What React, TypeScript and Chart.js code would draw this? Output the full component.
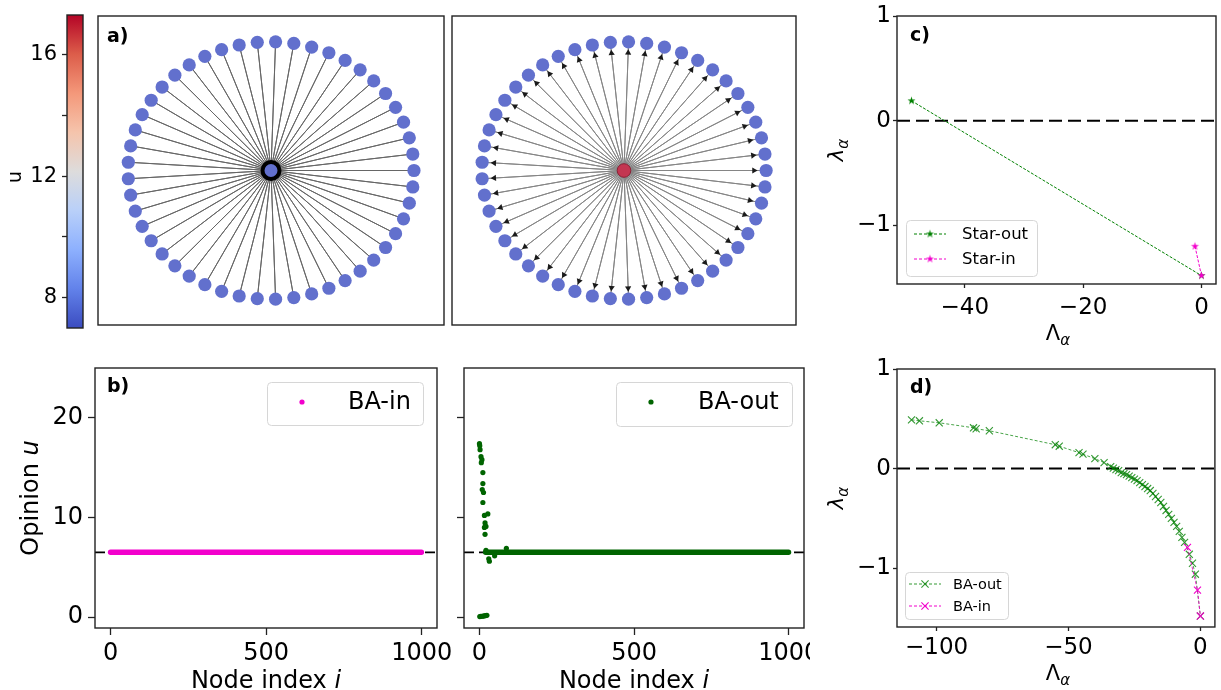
import React, { useEffect, useRef } from 'react';
import { Chart, registerables } from 'chart.js';
Chart.register(...registerables);

// ---------------- data ----------------
const colorbarTicks = [8, 10, 12, 14, 16];
const colorbarLabeledTicks = [8, 12, 16];
const colorbarMin = 7.0;
const colorbarMax = 17.3;

const starLeafCount = 49;
const starInLeafOpinion = 6.5;
const starInHubOpinion = 6.5;
const starOutLeafOpinion = 6.5;
const starOutHubOpinion = 17.5;

const nodeIndexTicks = [0, 500, 1000];
const opinionTicks = [0, 10, 20];
const nodeIndexMin = -50;
const nodeIndexMax = 1049;
const opinionMin = -1.1;
const opinionMax = 25;
const consensusOpinion = 6.5;
const baInConsensusNodes = [0, 999];
const baOutConsensusNodes = [20, 999];
const baOutOutlierNodes = [0, 1, 2, 5, 8, 6, 11, 11, 9, 13, 11, 16, 27, 18, 21, 16, 18, 21, 30, 32, 49, 87, 1, 4, 8, 12, 16, 20, 24];
const baOutOutlierOpinions = [17.4, 17.2, 16.8, 16.1, 15.8, 15.5, 14.5, 13.4, 12.8, 12.5, 11.5, 10.2, 10.35, 9.45, 9.1, 9.0, 8.3, 6.7, 5.85, 5.6, 6.15, 6.9, 0.05, 0.07, 0.08, 0.1, 0.12, 0.15, 0.17];

const lambdaTicks = [-1, 0, 1];
const starBigLambdaTicks = [-40, -20, 0];
const starBigLambdaMin = -51.45;
const starBigLambdaMax = 2.45;
const starLambdaMin = -1.56;
const starLambdaMax = 1;
const starOutBigLambda = [-49, 0];
const starOutLambda = [0.19, -1.48];
const starInBigLambda = [-1.1, 0];
const starInLambda = [-1.2, -1.48];

const baBigLambdaTicks = [-100, -50, 0];
const baBigLambdaMin = -115;
const baBigLambdaMax = 5.5;
const baLambdaMin = -1.59;
const baLambdaMax = 1;
const baOutBigLambda = [-109.5, -106.5, -99, -86, -85, -80, -55, -53.5, -46, -44.5, -40, -36.5, -34, -33, -32, -31, -30, -29, -28, -27, -26, -25, -24, -23, -22, -21, -20, -19, -18, -17, -16, -15, -14, -13, -12, -11, -10, -9, -8, -7, -6, -4.2, -3, -1.9, 0];
const baOutLambda = [0.49, 0.48, 0.46, 0.41, 0.40, 0.38, 0.24, 0.225, 0.16, 0.145, 0.10, 0.06, 0.02, 0.005, -0.01, -0.02, -0.04, -0.05, -0.06, -0.075, -0.09, -0.105, -0.12, -0.14, -0.16, -0.18, -0.20, -0.22, -0.25, -0.28, -0.31, -0.34, -0.38, -0.42, -0.46, -0.50, -0.54, -0.58, -0.63, -0.69, -0.74, -0.86, -0.95, -1.06, -1.48];
const baInBigLambda = [-4.9, -1.1, 0];
const baInLambda = [-0.79, -1.22, -1.48];

// ---------------- styling ----------------
const W = 1221;
const H = 690;
const FAMILY = '"DejaVu Sans", "Liberation Sans", sans-serif';
const F = (size: number, style = 'normal', weight = 'normal') => `${style} ${weight} ${size}px ${FAMILY}`;
const SPINE = '#222222';
const MAGENTA = '#f200cc';
const GREEN_DARK = '#006400';
const GREEN = '#008000';
const GREEN_D = 'rgba(0,128,0,0.8)';
const fmt = (v: number) => (v < 0 ? '\u2212' + Math.abs(v) : String(v));

const coolwarmStops: [number, number[]][] = [
  [0, [59, 76, 192]],
  [0.125, [98, 130, 234]],
  [0.25, [141, 176, 254]],
  [0.375, [185, 208, 249]],
  [0.5, [221, 220, 220]],
  [0.625, [245, 196, 172]],
  [0.75, [244, 152, 122]],
  [0.875, [220, 93, 74]],
  [1, [180, 4, 38]],
];
function coolwarm(t: number): number[] {
  const tt = Math.max(0, Math.min(1, t));
  for (let i = 1; i < coolwarmStops.length; i++) {
    const [t1, c1] = coolwarmStops[i];
    const [t0, c0] = coolwarmStops[i - 1];
    if (tt <= t1) {
      const f = (tt - t0) / (t1 - t0);
      return c0.map((c, k) => c + (c1[k] - c) * f);
    }
  }
  return coolwarmStops[coolwarmStops.length - 1][1];
}
function nodeColor(u: number) {
  const c = coolwarm((u - colorbarMin) / (colorbarMax - colorbarMin));
  const b = c.map((v) => Math.round(v * 0.8 + 255 * 0.2));
  return `rgb(${b[0]},${b[1]},${b[2]})`;
}

function makeStar(r: number, color: string) {
  const c = document.createElement('canvas');
  const s = Math.ceil(r * 2 + 2);
  c.width = s;
  c.height = s;
  const g = c.getContext('2d')!;
  g.fillStyle = color;
  g.beginPath();
  for (let i = 0; i < 10; i++) {
    const rr = i % 2 === 0 ? r : r * 0.382;
    const a = -Math.PI / 2 + (i * Math.PI) / 5;
    g.lineTo(s / 2 + rr * Math.cos(a), s / 2 + rr * Math.sin(a));
  }
  g.closePath();
  g.fill();
  return c;
}

type Run = { t: string; font: string; dy?: number };
type TextItem = { x: number; y: number; runs: Run[]; align?: 'left' | 'center' | 'right'; rotate?: boolean };
type LegendRow = { y: number; markerX: number; textX: number; label: string; font: string; marker: (ctx: CanvasRenderingContext2D, x: number, y: number) => void };
type LegendSpec = { box: [number, number, number, number]; rows: LegendRow[] };

function drawRuns(ctx: CanvasRenderingContext2D, item: TextItem) {
  ctx.save();
  ctx.translate(item.x, item.y);
  if (item.rotate) ctx.rotate(-Math.PI / 2);
  let total = 0;
  const widths = item.runs.map((r) => {
    ctx.font = r.font;
    const w = ctx.measureText(r.t).width;
    total += w;
    return w;
  });
  let cx = item.align === 'center' ? -total / 2 : item.align === 'right' ? -total : 0;
  ctx.textBaseline = 'alphabetic';
  ctx.textAlign = 'left';
  ctx.fillStyle = '#000';
  item.runs.forEach((r, i) => {
    ctx.font = r.font;
    ctx.fillText(r.t, cx, r.dy || 0);
    cx += widths[i];
  });
  ctx.restore();
}

function overlay(id: string, opts: { frame?: boolean; texts?: TextItem[]; legend?: LegendSpec }) {
  return {
    id,
    afterDatasetsDraw(chart: any) {
      if (!opts.frame) return;
      const { left, top, right, bottom } = chart.chartArea;
      const ctx = chart.ctx;
      ctx.save();
      ctx.strokeStyle = SPINE;
      ctx.lineWidth = 1.4;
      ctx.strokeRect(left, top, right - left, bottom - top);
      ctx.restore();
    },
    afterDraw(chart: any) {
      const ctx: CanvasRenderingContext2D = chart.ctx;
      if (opts.legend) {
        const [x0, y0, x1, y1] = opts.legend.box;
        ctx.save();
        ctx.beginPath();
        (ctx as any).roundRect(x0 + 0.5, y0 + 0.5, x1 - x0, y1 - y0, 4);
        ctx.fillStyle = 'rgba(255,255,255,0.85)';
        ctx.fill();
        ctx.strokeStyle = '#d6d6d6';
        ctx.lineWidth = 1;
        ctx.stroke();
        ctx.restore();
        opts.legend.rows.forEach((r) => {
          ctx.save();
          r.marker(ctx, r.markerX, r.y);
          ctx.restore();
          ctx.save();
          ctx.font = r.font;
          ctx.fillStyle = '#000';
          ctx.textBaseline = 'middle';
          ctx.textAlign = 'left';
          ctx.fillText(r.label, r.textX, r.y + 1);
          ctx.restore();
        });
      }
      (opts.texts || []).forEach((t) => drawRuns(ctx, t));
    },
  };
}

function axis(o: { pos: 'left' | 'bottom'; min: number; max: number; ticks: number[]; labeled?: number[]; size: number; font: number; tickLen: number; pad: number; hideLabels?: boolean }) {
  return {
    type: 'linear',
    position: o.pos,
    min: o.min,
    max: o.max,
    afterBuildTicks: (s: any) => {
      s.ticks = o.ticks.map((v) => ({ value: v }));
    },
    afterFit: (s: any) => {
      if (o.pos === 'left') s.width = o.size;
      else s.height = o.size;
      s.paddingLeft = 0;
      s.paddingRight = 0;
      s.paddingTop = 0;
      s.paddingBottom = 0;
    },
    grid: { display: true, drawOnChartArea: false, drawTicks: true, tickLength: o.tickLen, tickColor: SPINE, tickWidth: 1.3 },
    border: { display: false },
    ticks: {
      display: !o.hideLabels,
      color: '#000',
      font: { family: FAMILY, size: o.font },
      padding: o.pad,
      maxRotation: 0,
      minRotation: 0,
      autoSkip: false,
      callback: (v: number) => (!o.labeled || o.labeled.includes(v) ? fmt(v) : ''),
    },
  };
}

function baseOptions(padding: any) {
  return {
    animation: false,
    responsive: false,
    devicePixelRatio: 1,
    events: [],
    layout: { padding },
    plugins: { legend: { display: false }, tooltip: { enabled: false } },
  };
}

const pts = (xs: number[], ys: number[]) => xs.map((x, i) => ({ x, y: ys[i] }));

// ---------------- chart configs ----------------
function colorbarConfig() {
  return {
    type: 'bar',
    data: {
      labels: ['u'],
      datasets: [
        {
          data: [[colorbarMin, colorbarMax]],
          barPercentage: 1,
          categoryPercentage: 1,
          borderWidth: 0,
          backgroundColor: (c: any) => {
            const ch = c.chart;
            const ys = ch.scales && ch.scales.y;
            if (!ys) return '#ddd';
            const y0 = ys.getPixelForValue(colorbarMin);
            const y1 = ys.getPixelForValue(colorbarMax);
            if (!isFinite(y0) || !isFinite(y1)) return '#ddd';
            const g = ch.ctx.createLinearGradient(0, y0, 0, y1);
            coolwarmStops.forEach(([t, col]) => g.addColorStop(t, `rgb(${col[0]},${col[1]},${col[2]})`));
            return g;
          },
        },
      ],
    },
    options: {
      ...baseOptions({ left: 0, top: 15, right: W - 83, bottom: H - 328 }),
      scales: {
        x: { display: false },
        y: axis({ pos: 'left', min: colorbarMin, max: colorbarMax, ticks: colorbarTicks, labeled: colorbarLabeledTicks, size: 67, font: 21, tickLen: 5, pad: 5 }),
      },
    },
    plugins: [overlay('cb', { frame: true, texts: [{ x: 21, y: 177, runs: [{ t: 'u', font: F(19) }], align: 'center', rotate: true }] })],
  };
}

function starNetworkConfig(kind: 'in' | 'out', padding: any) {
  const hub = { x: 0, y: 0 };
  const leaves = Array.from({ length: starLeafCount }, (_, k) => {
    const a = (2 * Math.PI * k) / starLeafCount;
    return { x: Math.cos(a), y: Math.sin(a) };
  });
  const edgePath = [hub, ...leaves.flatMap((p) => [p, hub])];
  const leafU = kind === 'in' ? starInLeafOpinion : starOutLeafOpinion;
  const hubU = kind === 'in' ? starInHubOpinion : starOutHubOpinion;
  const datasets: any[] = [
    { data: edgePath, showLine: true, borderColor: kind === 'in' ? '#666666' : '#858585', borderWidth: 1, pointRadius: 0, order: 3 },
    { data: leaves, pointRadius: 6.6, pointBackgroundColor: nodeColor(leafU), pointBorderWidth: 0, order: 1 },
    {
      data: [hub],
      pointRadius: kind === 'in' ? 8.5 : 6.8,
      pointBackgroundColor: nodeColor(hubU),
      pointBorderColor: kind === 'in' ? '#000' : '#8a2035',
      pointBorderWidth: kind === 'in' ? 4 : 1,
      order: 0,
    },
  ];
  if (kind === 'out') {
    datasets.push({
      data: leaves.map((p) => ({ x: p.x * 0.915, y: p.y * 0.915 })),
      pointStyle: 'triangle',
      pointRadius: 3.6,
      pointBackgroundColor: '#1a1a1a',
      pointBorderWidth: 0,
      pointRotation: (c: any) => {
        const ch = c.chart;
        const xs = ch.scales.x;
        const ys = ch.scales.y;
        const p = c.raw;
        if (!p || !xs || !ys) return 0;
        const dx = xs.getPixelForValue(p.x) - xs.getPixelForValue(0);
        const dy = ys.getPixelForValue(p.y) - ys.getPixelForValue(0);
        return (Math.atan2(dy, dx) * 180) / Math.PI + 90;
      },
      order: 2,
    });
  }
  const texts: TextItem[] = kind === 'in' ? [{ x: 107, y: 42, runs: [{ t: 'a)', font: F(19, 'normal', 'bold') }] }] : [];
  return {
    type: 'scatter',
    data: { datasets },
    options: {
      ...baseOptions(padding),
      scales: {
        x: { type: 'linear', display: false, min: -1.21, max: 1.21 },
        y: { type: 'linear', display: false, min: -1.2, max: 1.2 },
      },
    },
    plugins: [overlay('net' + kind, { frame: true, texts })],
  };
}

function opinionConfig(kind: 'in' | 'out') {
  const isIn = kind === 'in';
  const area = isIn ? { l: 95, t: 368, r: 437, b: 628 } : { l: 464, t: 368, r: 804, b: 628 };
  const canvasW = isIn ? W : 810;
  const yW = isIn ? 95 : 64;
  const color = isIn ? MAGENTA : GREEN_DARK;
  const span = isIn ? baInConsensusNodes : baOutConsensusNodes;
  const datasets: any[] = [
    {
      data: [{ x: nodeIndexMin, y: consensusOpinion }, { x: nodeIndexMax, y: consensusOpinion }],
      showLine: true,
      borderColor: '#000',
      borderWidth: 1.8,
      borderDash: [10, 5],
      pointRadius: 0,
      order: 2,
    },
    {
      data: span.map((i) => ({ x: i, y: consensusOpinion })),
      showLine: true,
      borderColor: color,
      borderWidth: 5.4,
      borderCapStyle: 'round',
      pointRadius: 0,
      order: 1,
    },
  ];
  if (!isIn) {
    datasets.push({ data: pts(baOutOutlierNodes, baOutOutlierOpinions), pointRadius: 2.6, pointBackgroundColor: GREEN_DARK, pointBorderWidth: 0, order: 0 });
  }
  const texts: TextItem[] = [
    { x: (area.l + area.r) / 2, y: 688, runs: [{ t: 'Node index ', font: F(24) }, { t: 'i', font: F(24, 'italic') }], align: 'center' },
  ];
  if (isIn) {
    texts.push({ x: 107, y: 392, runs: [{ t: 'b)', font: F(19, 'normal', 'bold') }] });
    texts.push({ x: 38, y: (area.t + area.b) / 2, runs: [{ t: 'Opinion ', font: F(24) }, { t: 'u', font: F(24, 'italic') }], align: 'center', rotate: true });
  }
  const legend: LegendSpec = isIn
    ? {
        box: [267, 382, 423, 425],
        rows: [{ y: 402, markerX: 302, textX: 348, label: 'BA-in', font: F(24), marker: (ctx, x, y) => { ctx.beginPath(); ctx.arc(x, y, 2.6, 0, Math.PI * 2); ctx.fillStyle = MAGENTA; ctx.fill(); } }],
      }
    : {
        box: [616, 382, 792, 426],
        rows: [{ y: 402, markerX: 651, textX: 698, label: 'BA-out', font: F(24), marker: (ctx, x, y) => { ctx.beginPath(); ctx.arc(x, y, 2.6, 0, Math.PI * 2); ctx.fillStyle = GREEN_DARK; ctx.fill(); } }],
      };
  return {
    type: 'scatter',
    data: { datasets },
    options: {
      ...baseOptions({ left: area.l - yW, top: area.t, right: canvasW - area.r, bottom: 0 }),
      scales: {
        x: axis({ pos: 'bottom', min: nodeIndexMin, max: nodeIndexMax, ticks: nodeIndexTicks, size: H - area.b, font: 24, tickLen: 7, pad: 4 }),
        y: axis({ pos: 'left', min: opinionMin, max: opinionMax, ticks: opinionTicks, size: yW, font: 24, tickLen: 7, pad: 5, hideLabels: !isIn }),
      },
    },
    plugins: [overlay('op' + kind, { frame: true, texts, legend })],
  };
}

const starGreen = makeStar(4.2, GREEN);
const starMagenta = makeStar(4.2, MAGENTA);

function lineMarker(color: string, draw: (ctx: CanvasRenderingContext2D, x: number, y: number) => void) {
  return (ctx: CanvasRenderingContext2D, x: number, y: number) => {
    ctx.strokeStyle = color;
    ctx.lineWidth = 1;
    ctx.setLineDash([3, 2]);
    ctx.beginPath();
    ctx.moveTo(x - 16, y);
    ctx.lineTo(x + 16, y);
    ctx.stroke();
    ctx.setLineDash([]);
    draw(ctx, x, y);
  };
}
const crossMarker = (color: string) => (ctx: CanvasRenderingContext2D, x: number, y: number) => {
  const r = 3.6;
  ctx.strokeStyle = color;
  ctx.lineWidth = 1.1;
  ctx.beginPath();
  ctx.moveTo(x - r, y - r);
  ctx.lineTo(x + r, y + r);
  ctx.moveTo(x - r, y + r);
  ctx.lineTo(x + r, y - r);
  ctx.stroke();
};

function starSpectrumConfig() {
  const area = { l: 897, t: 16, r: 1220, b: 284 };
  return {
    type: 'scatter',
    data: {
      datasets: [
        { data: [{ x: starBigLambdaMin, y: 0 }, { x: starBigLambdaMax, y: 0 }], showLine: true, borderColor: '#000', borderWidth: 2, borderDash: [13, 6], pointRadius: 0, order: 2 },
        { data: pts(starOutBigLambda, starOutLambda), showLine: true, borderColor: GREEN, borderWidth: 1, borderDash: [3, 1.5], pointStyle: starGreen, pointRadius: 4, order: 1 },
        { data: pts(starInBigLambda, starInLambda), showLine: true, borderColor: MAGENTA, borderWidth: 1, borderDash: [3, 1.5], pointStyle: starMagenta, pointRadius: 4, order: 0 },
      ],
    },
    options: {
      ...baseOptions({ left: 820, top: area.t, right: W - area.r, bottom: H - area.b - 60 }),
      scales: {
        x: axis({ pos: 'bottom', min: starBigLambdaMin, max: starBigLambdaMax, ticks: starBigLambdaTicks, size: 60, font: 23, tickLen: 4, pad: 6 }),
        y: axis({ pos: 'left', min: starLambdaMin, max: starLambdaMax, ticks: lambdaTicks, size: area.l - 820, font: 23, tickLen: 4, pad: 2 }),
      },
    },
    plugins: [
      overlay('c', {
        frame: true,
        texts: [
          { x: 910, y: 41, runs: [{ t: 'c)', font: F(19, 'normal', 'bold') }] },
          { x: 843, y: 150, runs: [{ t: 'λ', font: F(21, 'italic') }, { t: 'α', font: F(15, 'italic'), dy: 5 }], align: 'center', rotate: true },
          { x: 1058, y: 340, runs: [{ t: 'Λ', font: F(21) }, { t: 'α', font: F(15, 'italic'), dy: 5 }], align: 'center' },
        ],
        legend: {
          box: [906, 220, 1037, 276],
          rows: [
            { y: 234, markerX: 930, textX: 962, label: 'Star-out', font: F(16.5), marker: lineMarker(GREEN, (ctx, x, y) => ctx.drawImage(starGreen, x - starGreen.width / 2, y - starGreen.height / 2)) },
            { y: 259, markerX: 930, textX: 962, label: 'Star-in', font: F(16.5), marker: lineMarker(MAGENTA, (ctx, x, y) => ctx.drawImage(starMagenta, x - starMagenta.width / 2, y - starMagenta.height / 2)) },
          ],
        },
      }),
    ],
  };
}

function baSpectrumConfig() {
  const area = { l: 897, t: 369, r: 1220, b: 627 };
  return {
    type: 'scatter',
    data: {
      datasets: [
        { data: [{ x: baBigLambdaMin, y: 0 }, { x: baBigLambdaMax, y: 0 }], showLine: true, borderColor: '#000', borderWidth: 2, borderDash: [13, 6], pointRadius: 0, order: 2 },
        { data: pts(baOutBigLambda, baOutLambda), showLine: true, borderColor: GREEN_D, borderWidth: 0.9, borderDash: [3, 2], pointStyle: 'crossRot', pointRadius: 5, pointBorderColor: GREEN_D, pointBorderWidth: 1.1, pointBackgroundColor: 'rgba(0,0,0,0)', order: 1 },
        { data: pts(baInBigLambda, baInLambda), showLine: true, borderColor: MAGENTA, borderWidth: 0.9, borderDash: [3, 2], pointStyle: 'crossRot', pointRadius: 5, pointBorderColor: MAGENTA, pointBorderWidth: 1.1, pointBackgroundColor: 'rgba(0,0,0,0)', order: 0 },
      ],
    },
    options: {
      ...baseOptions({ left: 820, top: area.t, right: W - area.r, bottom: 0 }),
      scales: {
        x: axis({ pos: 'bottom', min: baBigLambdaMin, max: baBigLambdaMax, ticks: baBigLambdaTicks, size: H - area.b, font: 23, tickLen: 4, pad: 3 }),
        y: axis({ pos: 'left', min: baLambdaMin, max: baLambdaMax, ticks: lambdaTicks, size: area.l - 820, font: 23, tickLen: 4, pad: 2 }),
      },
    },
    plugins: [
      overlay('d', {
        frame: true,
        texts: [
          { x: 910, y: 393, runs: [{ t: 'd)', font: F(19, 'normal', 'bold') }] },
          { x: 843, y: 498, runs: [{ t: 'λ', font: F(21, 'italic') }, { t: 'α', font: F(15, 'italic'), dy: 5 }], align: 'center', rotate: true },
          { x: 1058, y: 680, runs: [{ t: 'Λ', font: F(21) }, { t: 'α', font: F(15, 'italic'), dy: 5 }], align: 'center' },
        ],
        legend: {
          box: [905, 572, 1008, 619],
          rows: [
            { y: 584, markerX: 925, textX: 953, label: 'BA-out', font: F(14.5), marker: lineMarker(GREEN_D, crossMarker(GREEN_D)) },
            { y: 606, markerX: 925, textX: 953, label: 'BA-in', font: F(14.5), marker: lineMarker(MAGENTA, crossMarker(MAGENTA)) },
          ],
        },
      }),
    ],
  };
}

// ---------------- components ----------------
function ChartCanvas({ make, width }: { make: () => any; width: number }) {
  const ref = useRef<HTMLCanvasElement>(null);
  useEffect(() => {
    const chart = new Chart(ref.current as HTMLCanvasElement, make());
    return () => chart.destroy();
  }, []);
  return <canvas ref={ref} width={width} height={H} style={{ position: 'absolute', left: 0, top: 0, width, height: H }} />;
}

export default function App() {
  return (
    <div style={{ position: 'absolute', left: 0, top: 0, width: W, height: H, background: '#fff', overflow: 'hidden' }}>
      <ChartCanvas width={W} make={colorbarConfig} />
      <ChartCanvas width={W} make={() => starNetworkConfig('in', { left: 98, top: 16, right: W - 444, bottom: H - 325 })} />
      <ChartCanvas width={W} make={() => starNetworkConfig('out', { left: 452, top: 16, right: W - 796, bottom: H - 325 })} />
      <ChartCanvas width={W} make={() => opinionConfig('in')} />
      <ChartCanvas width={810} make={() => opinionConfig('out')} />
      <ChartCanvas width={W} make={starSpectrumConfig} />
      <ChartCanvas width={W} make={baSpectrumConfig} />
    </div>
  );
}
